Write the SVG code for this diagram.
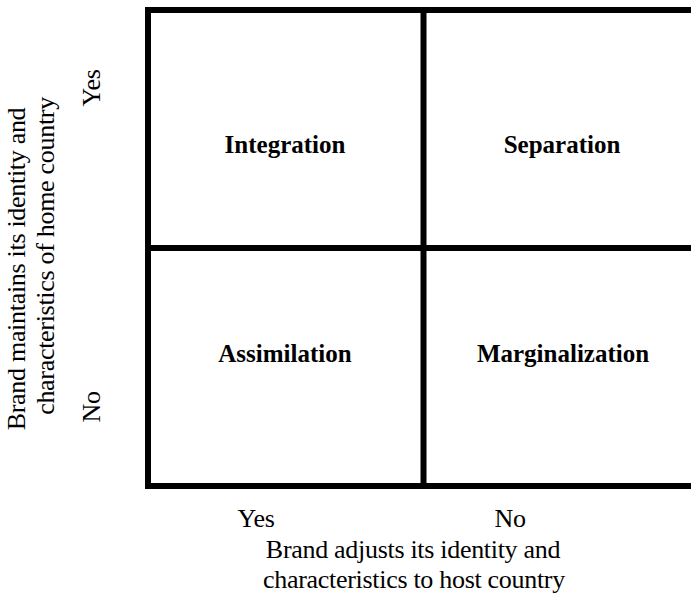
<svg xmlns="http://www.w3.org/2000/svg" width="691" height="595" viewBox="0 0 691 595">
<style>
.ln{stroke:#000;stroke-width:6;fill:none}
.q{font-family:"Liberation Serif","Times New Roman",serif;font-size:25px;font-weight:bold;text-anchor:middle;fill:#000}
.t{font-family:"Liberation Serif","Times New Roman",serif;font-size:26px;letter-spacing:-0.3px;text-anchor:middle;fill:#000}
</style>
<rect width="691" height="595" fill="#fff"/>
<g id="connectors">
<path class="ln" d="M697,10 H148 V486 H697"/>
<path class="ln" d="M423.5,10 V486"/>
<path class="ln" d="M148,248 H697"/>
</g>
<g id="integration"><text class="q" x="285" y="153">Integration</text></g>
<g id="separation"><text class="q" x="562" y="153">Separation</text></g>
<g id="assimilation"><text class="q" x="285" y="362">Assimilation</text></g>
<g id="marginalization"><text class="q" x="563" y="362">Marginalization</text></g>
<g id="x-axis">
<text class="t" x="256" y="527">Yes</text>
<text class="t" x="510" y="527">No</text>
<text class="t" x="413" y="558">Brand adjusts its identity and</text>
<text class="t" x="414" y="588">characteristics to host country</text>
</g>
<g id="y-axis">
<text class="t" transform="translate(25,269) rotate(-90)">Brand maintains its identity and</text>
<text class="t" transform="translate(54,256) rotate(-90)">characteristics of home country</text>
<text class="t" transform="translate(100,88) rotate(-90)">Yes</text>
<text class="t" transform="translate(100,407) rotate(-90)">No</text>
</g>
</svg>
